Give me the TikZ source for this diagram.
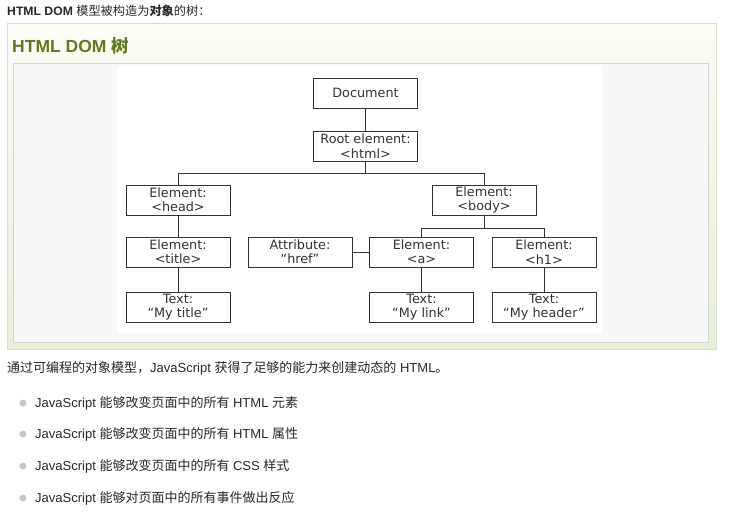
\documentclass[tikz,border=0pt]{standalone}
\usepackage{fontspec}
\setmainfont{Liberation Sans}
\newfontfamily\cjk{Noto Sans CJK SC}
\newfontfamily\verd{DejaVu Sans}
\definecolor{dgreen}{RGB}{97,122,28}
\definecolor{outerbd}{RGB}{214,224,196}
\definecolor{outertop}{RGB}{252,252,246}
\definecolor{outerbot}{RGB}{232,240,216}
\definecolor{innerbd}{RGB}{212,212,212}
\definecolor{innerfill}{RGB}{248,248,248}
\definecolor{txt}{RGB}{40,40,40}
\definecolor{bul}{RGB}{200,200,200}
\tikzset{
  dombox/.style={draw=black!80, line width=1pt, minimum width=104pt, minimum height=30pt,
    inner sep=0pt, align=center, font=\verd\fontsize{12.8}{14.3}\selectfont, text=black!80},
  conn/.style={draw=black!80, line width=1pt},
  plain/.style={inner sep=0pt, anchor=west, text=txt, font=\fontsize{13}{15}\selectfont},
  bulletdot/.style={circle, fill=bul, minimum size=7pt, inner sep=0pt}
}
\begin{document}
\begin{tikzpicture}[x=1pt,y=-1pt]
\useasboundingbox (0,0) rectangle (729,515);
\fill[white] (0,0) rectangle (729,515);
% outer panel
\shade[top color=outertop, bottom color=outerbot] (7,23) rectangle (716,349);
\draw[outerbd, line width=0.8pt] (7,23) rectangle (716,349);
% inner panel
\fill[innerfill] (13,63) rectangle (708,342);
\draw[innerbd, line width=0.8pt] (13,63) rectangle (708,342);
\fill[white] (117,66) rectangle (602,333);

% title
\node[plain, font=\fontsize{12.2}{15}\selectfont] (title) at (7,11) {\bfseries HTML DOM\mdseries{} {\cjk 模型被构造为}{\cjk\bfseries 对象}{\cjk 的树：}};
\node[plain, text=dgreen, font=\fontsize{17.5}{20}\selectfont\bfseries] (heading) at (12,46) {HTML DOM {\cjk 树}};

% tree
\node[dombox] (doc) at (365.5,93) {Document};
\node[dombox] (root) at (365.5,146) {Root element:\\<html>};
\node[dombox] (head) at (178,200) {Element:\\<head>};
\node[dombox] (body) at (484,200) {Element:\\<body>};
\node[dombox] (tit) at (178,252) {Element:\\<title>};
\node[dombox] (attr) at (300,252) {Attribute:\\“href”};
\node[dombox] (a) at (421.5,252) {Element:\\<a>};
\node[dombox] (h1) at (544,252) {Element:\\<h1>};
\node[dombox] (t1) at (178,307) {Text:\\“My title”};
\node[dombox] (t2) at (421.5,307) {Text:\\“My link”};
\node[dombox] (t3) at (544,307) {Text:\\“My header”};
\coordinate (j1) at (365.5,173);
\coordinate (j2) at (484,228);
\draw[conn] (doc) -- (root);
\draw[conn] (root) -- (j1);
\draw[conn] (j1) -| (head);
\draw[conn] (j1) -| (body);
\draw[conn] (head) -- (tit);
\draw[conn] (tit) -- (t1);
\draw[conn] (body) -- (j2);
\draw[conn] (j2) -| (a);
\draw[conn] (j2) -| (h1);
\draw[conn] (attr) -- (a);
\draw[conn] (a) -- (t2);
\draw[conn] (h1) -- (t3);

% text below
\node[plain] (para) at (7,368) {{\cjk 通过可编程的对象模型，}JavaScript {\cjk 获得了足够的能力来创建动态的} HTML{\cjk 。}};
\node[bulletdot] (b1) at (23,403) {};
\node[bulletdot] (b2) at (23,434) {};
\node[bulletdot] (b3) at (23,466) {};
\node[bulletdot] (b4) at (23,498) {};
\node[plain] (l1) at (35,403) {JavaScript {\cjk 能够改变页面中的所有} HTML {\cjk 元素}};
\node[plain] (l2) at (35,434) {JavaScript {\cjk 能够改变页面中的所有} HTML {\cjk 属性}};
\node[plain] (l3) at (35,466) {JavaScript {\cjk 能够改变页面中的所有} CSS {\cjk 样式}};
\node[plain] (l4) at (35,498) {JavaScript {\cjk 能够对页面中的所有事件做出反应}};
\end{tikzpicture}
\end{document}
